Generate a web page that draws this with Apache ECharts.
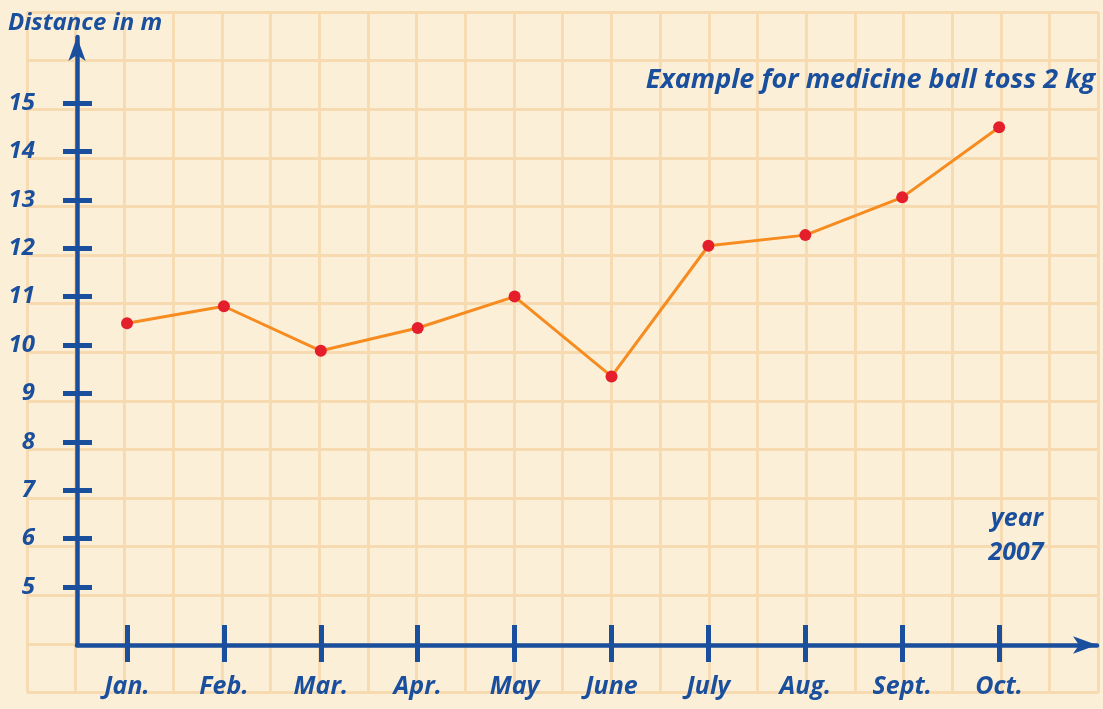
<!DOCTYPE html>
<html>
<head>
<meta charset="utf-8">
<title>Medicine ball toss 2 kg</title>
<script src="https://cdn.jsdelivr.net/npm/echarts@6/dist/echarts.min.js"></script>
<style>
  html, body { margin: 0; padding: 0; background: #fcefd8; }
  #chart { width: 1103px; height: 709px; }
</style>
</head>
<body>
<div id="chart"></div>
<script>
// Monthly results, medicine ball toss 2 kg, year 2007
const months = ['Jan.', 'Feb.', 'Mar.', 'Apr.', 'May', 'June', 'July', 'Aug.', 'Sept.', 'Oct.'];
const distances = [10.45, 10.8, 9.88, 10.35, 11.0, 9.35, 12.05, 12.27, 13.05, 14.5];
const distanceTicks = [5, 6, 7, 8, 9, 10, 11, 12, 13, 14, 15];
const monthTicks = months.map((m, i) => i);

const BLUE = '#1a4f9d';
const FONT = "'Open Sans', 'DejaVu Sans', sans-serif";

const labelFont = {
  color: BLUE,
  fontFamily: FONT,
  fontStyle: 'italic',
  fontWeight: 700
};

// axis ranges (the axis lines run past the first and last tick marks up to the arrow tips)
const yMin = 3.8, yMax = 16.364;
const xMin = -0.516, xMax = 10.01;

const chart = echarts.init(document.getElementById('chart'), null, { renderer: 'canvas' });

const option = {
  backgroundColor: '#fcefd8',
  animation: false,
  grid: [
    // main plotting area
    { left: 77, right: 6, top: 37, bottom: 64, containLabel: false },
    // squared paper behind everything
    { left: 27, top: 12, width: 48.7 * 22, height: 48.6 * 14, containLabel: false }
  ],
  xAxis: [
    {
      type: 'value', gridIndex: 0, min: xMin, max: xMax, z: 3,
      axisLine: {
        show: true, onZero: false,
        symbol: ['none', 'arrow'], symbolSize: [13, 24],
        lineStyle: { color: BLUE, width: 4.5 }
      },
      axisTick: {
        show: true, inside: true, length: 20, customValues: monthTicks,
        lineStyle: { color: BLUE, width: 5 }
      },
      axisLabel: {
        show: true, customValues: monthTicks, margin: 29,
        fontSize: 25, ...labelFont,
        formatter: v => months[Math.round(v)]
      },
      splitLine: { show: false }
    },
    {
      type: 'value', gridIndex: 0, min: xMin, max: xMax, position: 'bottom', z: 3,
      axisLine: { show: false, onZero: false },
      axisTick: {
        show: true, inside: false, length: 17, customValues: monthTicks,
        lineStyle: { color: BLUE, width: 5 }
      },
      axisLabel: { show: false },
      splitLine: { show: false }
    },
    {
      type: 'value', gridIndex: 1, min: 0, max: 22, interval: 1, z: 0,
      axisLine: { show: false }, axisTick: { show: false }, axisLabel: { show: false },
      splitLine: { show: true, lineStyle: { color: '#f7dab0', width: 2.8 } }
    }
  ],
  yAxis: [
    {
      type: 'value', gridIndex: 0, min: yMin, max: yMax, z: 3,
      axisLine: {
        show: true, onZero: false,
        symbol: ['none', 'arrow'], symbolSize: [13, 24],
        lineStyle: { color: BLUE, width: 4.5 }
      },
      axisTick: {
        show: true, inside: true, length: 15, customValues: distanceTicks,
        lineStyle: { color: BLUE, width: 5 }
      },
      axisLabel: {
        show: true, customValues: distanceTicks, margin: 42,
        fontSize: 24, ...labelFont
      },
      splitLine: { show: false }
    },
    {
      type: 'value', gridIndex: 0, min: yMin, max: yMax, position: 'left', offset: 0, z: 3,
      axisLine: { show: false, onZero: false },
      axisTick: {
        show: true, inside: false, length: 14, customValues: distanceTicks,
        lineStyle: { color: BLUE, width: 5 }
      },
      axisLabel: { show: false },
      splitLine: { show: false }
    },
    {
      type: 'value', gridIndex: 1, min: 0, max: 14, interval: 1, z: 0,
      axisLine: { show: false }, axisTick: { show: false }, axisLabel: { show: false },
      splitLine: { show: true, lineStyle: { color: '#f7dab0', width: 2.8 } }
    }
  ],
  series: [
    {
      type: 'line',
      xAxisIndex: 0,
      yAxisIndex: 0,
      z: 5,
      data: distances.map((d, i) => [monthTicks[i], d]),
      symbol: 'circle',
      symbolSize: 12,
      lineStyle: { color: '#f68b1f', width: 3 },
      itemStyle: { color: '#e41f2b' }
    }
  ],
  graphic: [
    {
      type: 'text', left: 8, top: 11, z: 10,
      style: { text: 'Distance in m', fill: BLUE, font: `italic 700 24px ${FONT}` }
    },
    {
      type: 'text', right: 8, top: 67, z: 10,
      style: { text: 'Example for medicine ball toss 2 kg', fill: BLUE, font: `italic 700 27px ${FONT}` }
    },
    {
      type: 'text', z: 10, x: 1017, y: 519,
      style: { text: 'year', fill: BLUE, font: `italic 700 25px ${FONT}`, textAlign: 'center', textVerticalAlign: 'middle' }
    },
    {
      type: 'text', z: 10, x: 1016, y: 553,
      style: { text: '2007', fill: BLUE, font: `italic 700 25px ${FONT}`, textAlign: 'center', textVerticalAlign: 'middle' }
    }
  ]
};

chart.setOption(option);
</script>
</body>
</html>
